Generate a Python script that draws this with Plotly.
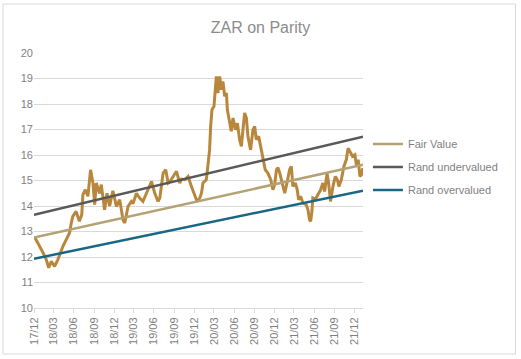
import plotly.graph_objects as go

# ---- data ----
zar_dates = [
    "2017-12-03", "2017-12-13", "2017-12-27", "2018-01-11", "2018-01-26", "2018-02-06", "2018-02-18",
    "2018-03-05", "2018-03-20", "2018-04-05", "2018-04-12", "2018-04-27", "2018-05-12", "2018-05-20",
    "2018-05-27", "2018-06-11", "2018-06-19", "2018-06-26", "2018-07-07", "2018-07-12", "2018-07-23",
    "2018-08-04", "2018-08-16", "2018-08-27", "2018-09-04", "2018-09-11", "2018-09-26", "2018-10-04",
    "2018-10-19", "2018-10-30", "2018-11-11", "2018-11-26", "2018-12-12", "2018-12-27", "2019-01-11",
    "2019-01-19", "2019-02-03", "2019-02-18", "2019-02-26", "2019-03-13", "2019-03-28", "2019-04-12",
    "2019-04-28", "2019-05-13", "2019-05-21", "2019-06-05", "2019-06-20", "2019-06-28", "2019-07-13",
    "2019-07-25", "2019-08-05", "2019-08-13", "2019-08-28", "2019-09-12", "2019-09-27", "2019-10-05",
    "2019-10-20", "2019-11-04", "2019-11-19", "2019-12-04", "2019-12-15", "2019-12-27", "2020-01-04",
    "2020-01-11", "2020-01-26", "2020-02-02", "2020-02-10", "2020-02-15", "2020-02-21", "2020-03-01",
    "2020-03-07", "2020-03-12", "2020-03-19", "2020-03-27", "2020-04-04", "2020-04-11", "2020-04-19",
    "2020-04-27", "2020-05-01", "2020-05-12", "2020-05-19", "2020-05-27", "2020-06-07", "2020-06-16",
    "2020-06-26", "2020-07-04", "2020-07-11", "2020-07-19", "2020-07-27", "2020-08-03", "2020-08-15",
    "2020-08-26", "2020-09-03", "2020-09-10", "2020-09-21", "2020-09-30", "2020-10-10", "2020-10-21",
    "2020-11-02", "2020-11-15", "2020-11-25", "2020-12-03", "2020-12-11", "2020-12-18", "2020-12-26",
    "2021-01-05", "2021-01-18", "2021-01-28", "2021-02-09", "2021-02-17", "2021-02-24", "2021-03-07",
    "2021-03-16", "2021-03-22", "2021-03-31", "2021-04-11", "2021-04-26", "2021-05-04", "2021-05-11",
    "2021-05-16", "2021-05-22", "2021-05-26", "2021-06-06", "2021-06-18", "2021-07-01", "2021-07-11",
    "2021-07-19", "2021-07-30", "2021-08-06", "2021-08-15", "2021-08-26", "2021-09-06", "2021-09-15",
    "2021-09-22", "2021-10-03", "2021-10-15", "2021-10-26", "2021-11-03", "2021-11-14", "2021-11-23",
    "2021-12-04", "2021-12-12", "2021-12-19", "2021-12-27", "2022-01-03", "2022-01-09",
]
zar_values = [
    12.80, 12.65, 12.42, 12.17, 11.90, 11.58, 11.83,
    11.63, 11.90, 12.29, 12.42, 12.68, 12.94, 13.33,
    13.59, 13.79, 13.59, 13.40, 13.66, 14.44, 14.64,
    14.38, 15.42, 14.90, 14.05, 14.90, 14.50, 14.84,
    13.85, 14.50, 14.00, 14.60, 13.98, 14.25, 13.46,
    13.33, 13.98, 14.18, 14.10, 14.50, 14.31, 14.18,
    14.50, 14.77, 14.96, 14.50, 14.18, 14.31, 15.29,
    15.42, 14.90, 14.95, 15.16, 15.36, 14.90, 15.05,
    15.03, 15.16, 14.77, 14.38, 14.18, 14.31, 14.50,
    14.90, 15.03, 15.55, 16.20, 17.12, 17.78, 17.90,
    18.56, 19.08, 18.43, 19.08, 18.56, 18.89, 18.30,
    18.43, 17.78, 17.25, 16.93, 17.45, 16.99, 17.25,
    16.60, 16.34, 17.12, 17.65, 17.45, 16.73, 16.20,
    16.99, 17.12, 16.60, 16.73, 16.34, 15.82, 15.42,
    15.29, 15.03, 14.64, 14.84, 15.42, 15.50, 15.30,
    14.90, 14.50, 14.90, 15.42, 15.55, 14.77, 14.90,
    14.64, 14.25, 14.38, 14.12, 14.05, 13.85, 13.46,
    13.40, 13.79, 14.31, 14.25, 14.44, 14.64, 14.90,
    14.57, 15.29, 14.90, 14.18, 14.77, 15.16, 15.03,
    14.77, 15.03, 15.55, 15.82, 16.27, 16.08, 15.95,
    16.01, 15.55, 15.82, 15.16, 15.23, 15.49,
]

band_dates = ["2017-12-01", "2022-01-10"]
fair_value = [12.76, 15.62]
rand_undervalued = [13.66, 16.72]
rand_overvalued = [11.93, 14.60]

tick_dates = [
    "2017-12-01", "2018-03-01", "2018-06-01", "2018-09-01", "2018-12-01", "2019-03-01",
    "2019-06-01", "2019-09-01", "2019-12-01", "2020-03-01", "2020-06-01", "2020-09-01",
    "2020-12-01", "2021-03-01", "2021-06-01", "2021-09-01", "2021-12-01",
]
tick_labels = [
    "17/12", "18/03", "18/06", "18/09", "18/12", "19/03", "19/06", "19/09", "19/12",
    "20/03", "20/06", "20/09", "20/12", "21/03", "21/06", "21/09", "21/12",
]

FONT = "Liberation Sans"
GREY = "#7f7f7f"

fig = go.Figure()
fig.add_trace(go.Scatter(x=zar_dates, y=zar_values, mode="lines", name="ZAR",
                         line=dict(color="#B8873C", width=3), showlegend=False))
fig.add_trace(go.Scatter(x=band_dates, y=fair_value, mode="lines", name="Fair Value",
                         legendgroup="a", line=dict(color="#B5A274", width=2.5)))
fig.add_trace(go.Scatter(x=band_dates, y=rand_undervalued, mode="lines", name="Rand undervalued",
                         legendgroup="b", line=dict(color="#595959", width=2.5)))
fig.add_trace(go.Scatter(x=band_dates, y=rand_overvalued, mode="lines", name="Rand overvalued",
                         legendgroup="c", line=dict(color="#1A6784", width=2.5)))

fig.update_layout(
    width=521, height=359,
    margin=dict(l=34, r=158, t=53, b=51),
    paper_bgcolor="white", plot_bgcolor="white",
    font=dict(family=FONT, size=11, color=GREY),
    title=dict(text="ZAR on Parity", x=0.5, xref="container", xanchor="center",
               y=0.925, yref="container", yanchor="middle",
               font=dict(family=FONT, size=16, color="#8c8c8c")),
    showlegend=True,
    legend=dict(x=1.015, y=0.70, xanchor="left", yanchor="top",
                font=dict(family=FONT, size=11, color=GREY),
                tracegroupgap=4, bgcolor="rgba(0,0,0,0)"),
    xaxis=dict(type="date", range=["2017-12-01", "2022-01-10"],
               tickmode="array", tickvals=tick_dates, ticktext=tick_labels,
               tickangle=-90, showgrid=False, showline=True, linecolor="#d9d9d9",
               linewidth=1, ticks="outside", ticklen=4, tickcolor="#d9d9d9",
               tickfont=dict(family=FONT, size=11, color=GREY), zeroline=False),
    yaxis=dict(range=[10, 20], dtick=1, tick0=10, showgrid=True, gridcolor="#d9d9d9",
               gridwidth=1, showline=False, zeroline=False, ticks="",
               tickfont=dict(family=FONT, size=11, color=GREY)),
    shapes=[dict(type="rect", xref="paper", yref="paper",
                 x0=-0.0942, x1=1.4635, y0=-0.1804, y1=1.192,
                 line=dict(color="#d9d9d9", width=1), fillcolor="rgba(0,0,0,0)",
                 layer="below")],
)

fig.write_html("out.html", config={"displayModeBar": False},
               post_script="document.body.style.margin='0';document.body.style.overflow='hidden';")
